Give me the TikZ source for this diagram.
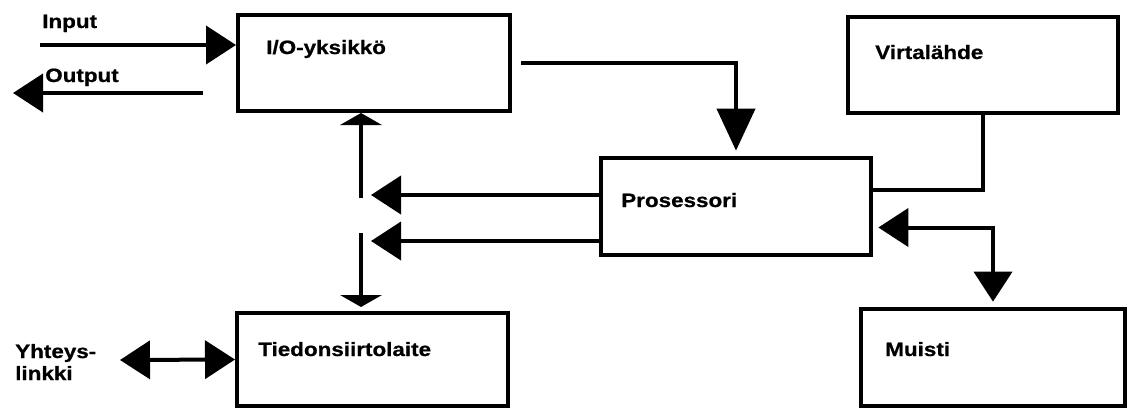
\documentclass[tikz,border=0pt]{standalone}
\usepackage{fontspec}
\setmainfont{Liberation Sans}[FakeStretch=1.16,BoldFeatures={FakeBold=0.8}]
\usetikzlibrary{arrows.meta,calc,positioning}
\tikzset{
    box/.style 2 args={draw, line width=3pt, minimum width=#1*0.75pt,
        minimum height=#2*0.75pt, inner sep=0pt},
    lbl/.style={font=\fontsize{14.5}{16.5}\selectfont\bfseries, inner sep=0pt,
        anchor=base west, align=left},
    conn/.style={line width=3pt},
    bigtip/.tip={Triangle[length=22.5pt,width=28.5pt]},
    longtip/.tip={Triangle[length=31.5pt,width=28.5pt]},
    flattip/.tip={Triangle[length=9pt,width=31pt]}
}
\begin{document}
\begin{tikzpicture}[x=0.75pt,y=-0.75pt]
    \useasboundingbox (0,0) rectangle (1128,408);
    % boxes
    \node[box={272}{96}] (io) at (374,63) {};
    \node[box={270}{97}] (proc) at (736,206.5) {};
    \node[box={270}{96}] (virta) at (983,65) {};
    \node[box={264}{97}] (muisti) at (993,357.5) {};
    \node[box={271}{93}] (tds) at (372.5,359.5) {};
    % box texts
    \node[lbl] (io-t) at ($(io.north west)+(30,41)$) {I/O-yksikkö};
    \node[lbl] (proc-t) at ($(proc.north west)+(22,51)$) {Prosessori};
    \node[lbl] (virta-t) at ($(virta.north west)+(29,44)$) {Virtalähde};
    \node[lbl] (muisti-t) at ($(muisti.north west)+(26,49)$) {Muisti};
    \node[lbl] (tds-t) at ($(tds.north west)+(23,45)$) {Tiedonsiirtolaite};
    % free labels
    \node[lbl] (in-t) at (42,28) {Input};
    \node[lbl] (out-t) at (45,82) {Output};
    \node[lbl] (link-t) at (15,380) {Yhteys-\\linkki};
    % free ends
    \coordinate (inp) at (40,45);
    \coordinate (outa) at (203,93);
    \coordinate (outb) at (13,93);
    \coordinate (bustop) at (361,198);
    \coordinate (busbot) at (361,233);
    \coordinate (tipa) at (371,195);
    \coordinate (tipb) at (371,241);
    \coordinate (link) at (120,360);
    % connectors
    \draw[conn,-{bigtip}] (inp) -- (inp -| io.west);
    \draw[conn,-{bigtip}] (outa) -- (outb);
    \draw[conn,-{longtip},shorten <=7pt,shorten >=4pt] (io.east) -| (proc.north);
    \draw[conn,-{flattip}] (bustop) -- (bustop |- io.south);
    \draw[conn,-{flattip},shorten >=3pt] (busbot) -- (busbot |- tds.north);
    \draw[conn,-{bigtip}] (tipa -| proc.west) -- (tipa);
    \draw[conn,-{bigtip}] (tipb -| proc.west) -- (tipb);
    \draw[conn] (virta.south) |- ($(proc.east)+(0,-17)$);
    \draw[conn,{bigtip}-{bigtip},shorten <=4pt,shorten >=4pt]
        ($(proc.east)+(0,21)$) -| (muisti.north);
    \draw[conn,{bigtip}-{bigtip}] (link) -- (tds.west);
\end{tikzpicture}
\end{document}
